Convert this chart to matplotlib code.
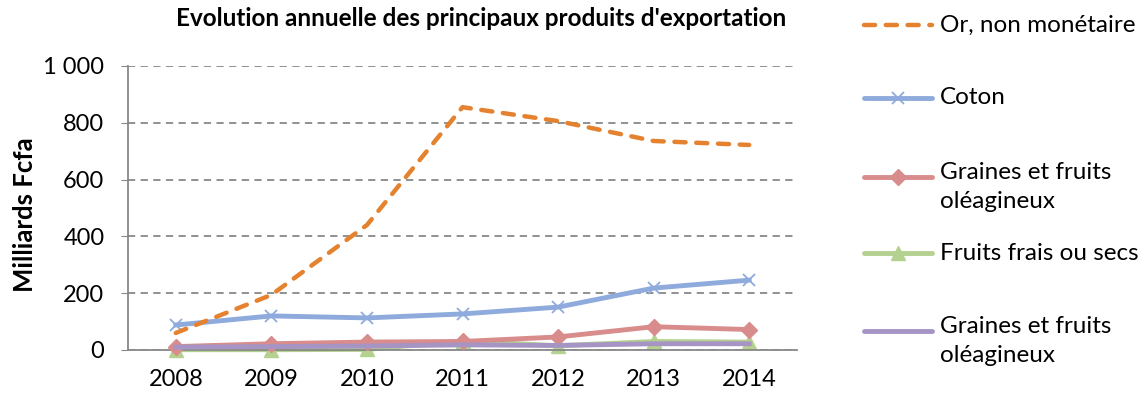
import matplotlib
matplotlib.use("Agg")
import matplotlib.pyplot as plt
from matplotlib.lines import Line2D
import numpy as np

years = ["2008", "2009", "2010", "2011", "2012", "2013", "2014"]
or_vals = [60, 194, 440, 855, 806, 736, 722]
coton = [88, 120, 113, 127, 151, 218, 246]
graines = [12, 22, 28, 30, 46, 82, 72]
fruits = [1, 1, 2, 32, 15, 30, 28]
graines2 = [10, 12, 14, 18, 16, 22, 22]
labels = ["Or, non monétaire", "Coton", "Graines et fruits\noléagineux",
          "Fruits frais ou secs", "Graines et fruits\noléagineux"]
yticks = [0, 200, 400, 600, 800, 1000]
ytick_labels = ["0", "200", "400", "600", "800", "1 000"]

plt.rcParams['font.family'] = ['Lato', 'DejaVu Sans']

W, H = 1143, 404
fig = plt.figure(figsize=(W / 100, H / 100), dpi=100)
ax = fig.add_axes([128 / W, 1 - 350 / H, (797 - 128) / W, (350 - 66) / H])

x = np.arange(len(years))
styles = [
    dict(color="#E4822F", ls=(0, (2.5, 2.4)), marker=None, lw=3.2, dash_capstyle="round"),
    dict(color="#8FAADC", ls="-", marker="x", ms=9, mew=1.3, lw=3.5),
    dict(color="#D88C8C", ls="-", marker="D", ms=8, lw=3.5),
    dict(color="#B5D190", ls="-", marker="^", ms=10, lw=3.5),
    dict(color="#A594C4", ls="-", marker=None, lw=3.5),
]
series = [or_vals, coton, graines, fruits, graines2]
zorders = [5, 4, 3, 2, 3.5]
for s, st, z in zip(series, styles, zorders):
    ln, = ax.plot(x, s, color=st["color"], linestyle=st["ls"], marker=st["marker"],
                  markersize=st.get("ms", 0), markeredgewidth=st.get("mew", 1),
                  linewidth=st["lw"], zorder=z, clip_on=False)
    if st.get("dash_capstyle"):
        ln.set_dash_capstyle(st["dash_capstyle"])

ax.set_xlim(-0.5, len(years) - 0.5)
ax.set_ylim(0, 1000)
ax.set_xticks(x)
ax.set_xticklabels(years, fontsize=17)
ax.set_yticks(yticks)
ax.set_yticklabels(ytick_labels, fontsize=17)
ax.tick_params(axis="x", length=0, pad=14)
ax.tick_params(axis="y", length=5, color="#888888", pad=12)
for sp in ["top", "right"]:
    ax.spines[sp].set_visible(False)
for sp in ["left", "bottom"]:
    ax.spines[sp].set_color("#888888")
    ax.spines[sp].set_linewidth(1.3)
ax.yaxis.grid(True, color="#888888", linestyle=(0, (4, 3)), linewidth=1.3)
ax.set_axisbelow(True)
ax.set_ylabel("Milliards Fcfa", fontsize=18.5, fontweight="bold")
ax.yaxis.set_label_coords(-0.136, 0.475)

fig.text(481 / W, 1 - 18 / H, "Evolution annuelle des principaux produits d'exportation",
         ha="center", va="center", fontsize=17.5, fontweight="bold")

# legend
leg_y = [25, 98, 177, 253, 331]
for lab, st, yy in zip(labels, styles, leg_y):
    yf = 1 - yy / H
    ln = Line2D([864 / W, 932 / W], [yf, yf], transform=fig.transFigure,
                color=st["color"], linestyle=st["ls"], linewidth=st["lw"],
                solid_capstyle="round")
    if st.get("dash_capstyle"):
        ln.set_dash_capstyle("round")
    fig.add_artist(ln)
    if st["marker"]:
        fig.add_artist(Line2D([898 / W], [yf], transform=fig.transFigure,
                              color=st["color"], marker=st["marker"],
                              markersize=st.get("ms", 0), markeredgewidth=st.get("mew", 1)))
    if "\n" in lab:
        fig.text(940 / W, yf + 15 / H, lab, ha="left", va="top", fontsize=17.5, linespacing=1.5)
    else:
        fig.text(940 / W, yf, lab, ha="left", va="center", fontsize=17.5)

fig.savefig("out.png", dpi=100)
